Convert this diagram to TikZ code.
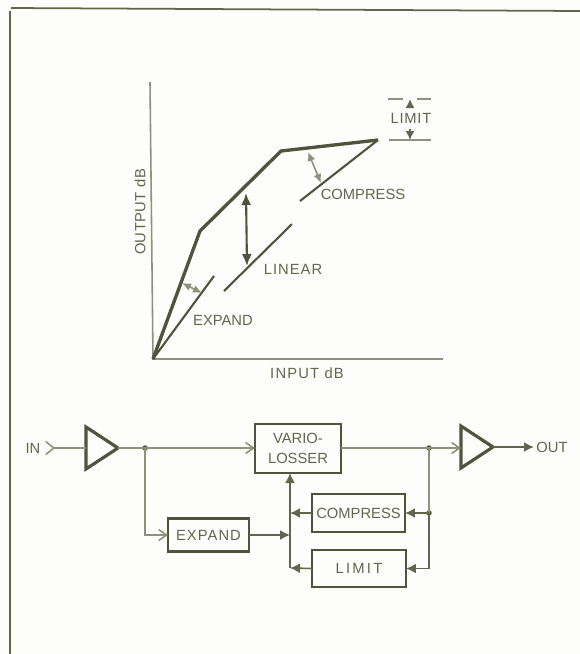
\documentclass[tikz,border=0pt]{standalone}
\usepackage{xcolor}
\usepackage{fontspec}
\setmainfont{Liberation Sans}
\usetikzlibrary{
    arrows.meta,
    positioning,
    shapes.geometric
}
\definecolor{inkdark}{HTML}{50543C}
\definecolor{inkmid}{HTML}{62664E}
\definecolor{inklight}{HTML}{8E927A}
\definecolor{paper}{HTML}{FDFDFB}

\begin{document}
\begin{tikzpicture}[
    x=0.02cm,
    y=-0.02cm,
    box/.style={
        draw=inkdark,
        line width=1.5pt,
        fill=paper,
        inner sep=0pt,
        outer sep=0pt,
        align=center,
        text=inkmid,
        font=\fontsize{8.4}{11}\selectfont
    },
    amp/.style={
        draw=inkdark,
        line width=1.8pt,
        isosceles triangle,
        isosceles triangle stretches,
        shape border rotate=0,
        minimum width=0.84cm,
        minimum height=0.64cm,
        inner sep=0pt,
        outer sep=0pt
    },
    lbl/.style={
        text=inkmid,
        inner sep=0pt,
        font=\fontsize{8.4}{10}\selectfont
    },
    spaced/.style={font=\fontsize{8.4}{10}\selectfont\addfontfeatures{LetterSpace=#1}},
    wire/.style={draw=inklight, line width=0.9pt},
    opentip/.style={wire, -{Straight Barb[length=1.6mm,width=2.2mm,line width=0.9pt]}},
    solidtip/.style={draw=inkmid, line width=0.9pt, -{Latex[length=2mm,width=2mm]}},
    curve/.style={draw=inkdark, line width=1.9pt, line join=round},
    gain/.style={draw=inkdark, line width=1.2pt},
    dot/.style={circle, fill=inkdark, inner sep=0pt, minimum size=1.1mm}
]

\useasboundingbox[fill=paper] (0,0) rectangle (580,654);

% frame
\draw[draw=inkmid, line width=1pt] (11,8) -- (580,11);
\draw[draw=inkmid, line width=1.1pt] (10,11) -- (10,654);

% transfer curve
\coordinate (origin) at (153,359);
\coordinate (kneelow) at (200,231);
\coordinate (kneehigh) at (281,151);
\coordinate (curveend) at (378,140);

\draw[wire] (150,82) -- (origin) -- (443,359);
\draw[curve] (origin) -- (kneelow) -- (kneehigh) -- (curveend);
\draw[gain] (origin) -- (214,276);
\draw[gain] (224,291) -- (292,224);
\draw[gain] (300,201) -- (curveend);

\draw[draw=inkdark, line width=1.2pt, {Latex[length=2.4mm,width=2mm]}-{Latex[length=2.4mm,width=2mm]}] (246,193) -- (247,266);
\draw[wire, {Latex[length=1.8mm,width=1.6mm]}-{Latex[length=1.8mm,width=1.6mm]}] (308,152) -- (321,183);
\draw[wire, {Latex[length=1.8mm,width=1.6mm]}-{Latex[length=1.8mm,width=1.6mm]}] (182,283) -- (202,293);

\draw[wire] (388,99) -- (403,99);
\draw[wire] (417,99) -- (431,99);
\draw[wire] (389,140) -- (431,140);
\draw[draw=inkmid, line width=0.9pt, -{Latex[length=1.8mm,width=1.8mm]}] (410,108) -- (410,99);
\draw[draw=inkmid, line width=0.9pt, -{Latex[length=1.8mm,width=1.8mm]}] (410,129) -- (410,140);

\node[lbl, spaced=5] (limitlbl) at (411,118) {LIMIT};
\node[lbl] (compresslbl) at (363,194) {COMPRESS};
\node[lbl, spaced=7] (linearlbl) at (293,269) {LINEAR};
\node[lbl] (expandlbl) at (223,320) {EXPAND};
\node[lbl, spaced=8] (inputlbl) at (307,373) {INPUT dB};
\node[lbl, spaced=3, rotate=90] (outputlbl) at (140,212) {OUTPUT dB};

% block diagram
\node[lbl] (in) at (33,448) {IN};
\node[lbl] (out) at (552,447) {OUT};
\node[amp, anchor=apex] (ampin) at (118,448) {};
\node[amp, anchor=apex] (ampout) at (493,447) {};

\node[box, minimum width=1.72cm, minimum height=0.98cm] (vario) at (298,448.5) {VARIO-\\LOSSER};
\node[box, minimum width=1.86cm, minimum height=0.76cm] (compress) at (358.5,513) {COMPRESS};
\node[box, spaced=15, minimum width=1.88cm, minimum height=0.74cm] (limit) at (359,568.5) {LIMIT};
\node[box, spaced=7, minimum width=1.62cm, minimum height=0.66cm] (expand) at (208.5,535) {EXPAND};

\coordinate (split) at (145,448);
\coordinate (tap) at (429,448);
\coordinate (tapmid) at (429,513);
\coordinate (bus) at (290,568);
\coordinate (barbin) at (45,448);

\node[dot] (splitdot) at (split) {};
\node[dot] (tapdot) at (tap) {};
\node[dot] (tapmiddot) at (tapmid) {};

\draw[wire, {Straight Barb[reversed,length=1.6mm,width=2.6mm,line width=0.9pt]}-] (barbin) -- (ampin.west);
\draw[opentip] (ampin.apex) -- (vario.west |- ampin.apex);
\draw[opentip] (split) |- (expand.west);
\draw[wire] (vario.east |- tap) -- (tap);
\draw[opentip] (tap) -- (ampout.west |- tap);
\draw[solidtip] (ampout.apex) -- (534,447);

\draw[solidtip] (bus) -- (bus |- vario.south);
\draw[solidtip] (expand.east) -- (expand.east -| bus);
\draw[solidtip] (compress.west) -- (compress.west -| bus);
\draw[solidtip] (limit.west) -- (bus);

\draw[wire] (tap) -- (tapmid);
\draw[solidtip] (tapmid) -- (compress.east);
\draw[solidtip] (tapmid) |- (limit.east);

\end{tikzpicture}
\end{document}
